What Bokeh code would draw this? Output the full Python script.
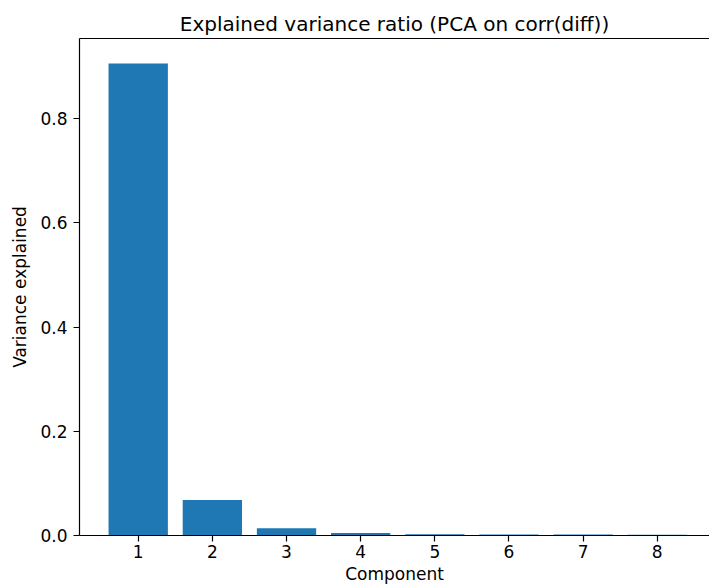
from bokeh.plotting import figure
from bokeh.models import LinearAxis, FixedTicker, PrintfTickFormatter, Range1d
from bokeh.embed import file_html
from bokeh.resources import INLINE

components = [1, 2, 3, 4, 5, 6, 7, 8]
variance_ratio = [0.906, 0.068, 0.014, 0.005, 0.0022, 0.0020, 0.0018, 0.0016]
y_ticks = [0.0, 0.2, 0.4, 0.6, 0.8]

FONT = "DejaVu Sans"

p = figure(width=709, height=588, output_backend="svg", toolbar_location=None,
           x_range=Range1d(0.208, 8.705), y_range=Range1d(0, 0.954),
           title="Explained variance ratio (PCA on corr(diff))",
           min_border_left=79, min_border_right=0, min_border_top=38, min_border_bottom=53)

p.vbar(x=components, top=variance_ratio, width=0.8, bottom=0,
       fill_color="#1f77b4", line_color="#1f77b4", line_width=0)

p.outline_line_color = None
p.grid.visible = False
p.background_fill_color = "white"
p.border_fill_color = "white"

p.title.text_font = FONT
p.title.text_font_size = "20px"
p.title.text_font_style = "normal"
p.title.text_color = "black"
p.title.align = "center"
p.title.standoff = 5

xa = p.xaxis[0]
xa.ticker = FixedTicker(ticks=components)
xa.axis_label = "Component"
ya = p.yaxis[0]
ya.ticker = FixedTicker(ticks=y_ticks)
ya.formatter = PrintfTickFormatter(format="%.1f")
ya.axis_label = "Variance explained"

for ax in (xa, ya):
    ax.axis_line_color = "black"
    ax.axis_line_width = 1.2
    ax.major_tick_line_color = "black"
    ax.major_tick_line_width = 1.2
    ax.major_tick_out = 6
    ax.major_tick_in = 0
    ax.minor_tick_line_color = None
    ax.major_label_text_font = FONT
    ax.major_label_text_font_size = "17px"
    ax.major_label_text_color = "black"
    ax.axis_label_text_font = FONT
    ax.axis_label_text_font_size = "17px"
    ax.axis_label_text_font_style = "normal"
    ax.axis_label_text_color = "black"

xa.major_label_standoff = 3
xa.axis_label_standoff = 3
ya.major_label_standoff = 6
ya.axis_label_standoff = 7

top = LinearAxis(ticker=FixedTicker(ticks=[]), major_tick_out=0, major_tick_in=0,
                 minor_tick_out=0, minor_tick_in=0, major_label_text_font_size="0px",
                 major_label_standoff=0, axis_line_color="black", axis_line_width=1.2)
p.add_layout(top, "above")

open("out.html", "w").write(file_html(p, INLINE))
